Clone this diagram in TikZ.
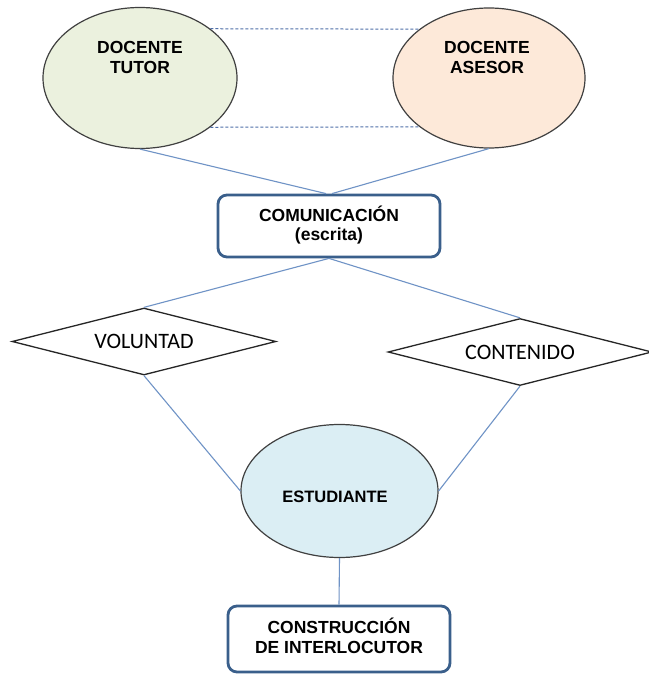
\documentclass[tikz,border=0pt]{standalone}
\usepackage{fontspec}
\setmainfont{Liberation Sans}
\newfontfamily\calib{Carlito}
\usetikzlibrary{shapes.geometric}
\definecolor{lgreen}{HTML}{EBF1DE}
\definecolor{lpeach}{HTML}{FDE9D9}
\definecolor{lblue}{HTML}{DBEEF4}
\definecolor{connc}{HTML}{6F93C6}
\definecolor{boxb}{HTML}{3A5F8B}
\definecolor{dashc}{HTML}{4F6FA8}
\begin{document}
\begin{tikzpicture}[x=1pt,y=-1pt,
  ell/.style={ellipse, draw=black!75, line width=1.2pt, inner sep=0pt},
  lbl/.style={font=\bfseries\fontsize{17.5}{20}\selectfont, align=center, inner sep=0pt},
  rbox/.style={draw=boxb, line width=2.8pt, rounded corners=9pt, fill=white,
    minimum width=222pt, inner sep=0pt, align=center,
    font=\bfseries\fontsize{17.5}{20}\selectfont},
  dia/.style={diamond, draw=black!85, line width=1.3pt, fill=white, aspect=3.9,
    minimum width=264pt, minimum height=67pt, inner sep=0pt,
    font=\calib\fontsize{22}{24}\selectfont},
  conn/.style={draw=connc, line width=1.1pt},
  dashc/.style={draw=dashc, line width=1pt, dash pattern=on 3pt off 2pt}]

\useasboundingbox (0,0) rectangle (648,676);
\fill[white] (0,0) rectangle (648,676);

\node[ell, fill=lgreen, minimum width=194pt, minimum height=141pt] (L) at (140,78) {};
\node[ell, fill=lpeach, minimum width=192pt, minimum height=140pt] (R) at (489,78) {};
\node[lbl] (Lt) at (140,57) {DOCENTE\\TUTOR};
\node[lbl] (Rt) at (487,57) {DOCENTE\\ASESOR};

\node[rbox, minimum height=62pt] (C) at (329,226)
  {\raisebox{-1pt}{\begin{tabular}{@{}c@{}}COMUNICACIÓN\\[-1pt](escrita)\end{tabular}}};

\node[dia] (V) at (144,341.5) {\raisebox{-3pt}{VOLUNTAD}};
\node[dia] (K) at (520,352) {\raisebox{-2pt}{CONTENIDO}};

\node[ell, fill=lblue, minimum width=197pt, minimum height=133pt] (E) at (339.5,491) {};
\node[lbl, font=\bfseries\fontsize{16.5}{20}\selectfont] (Et) at (335,497) {ESTUDIANTE};

\node[rbox, minimum height=66pt] (B) at (339,639)
  {\raisebox{-5pt}{\begin{tabular}{@{}c@{}}CONSTRUCCIÓN\\[0pt]DE INTERLOCUTOR\end{tabular}}};

\draw[dashc] (L.35) -- (R.145);
\draw[dashc] (L.-35) -- (R.-145);
\draw[conn] (L.south) -- ([xshift=-3pt]C.north);
\draw[conn] (R.south) -- ([xshift=3pt]C.north);
\draw[conn] (C.south) -- (V.north);
\draw[conn] (C.south) -- (K.north);
\draw[conn] (V.south) -- (E.west);
\draw[conn] (K.south) -- (E.east);
\draw[conn] (E.south) -- (B.north);
\end{tikzpicture}
\end{document}
